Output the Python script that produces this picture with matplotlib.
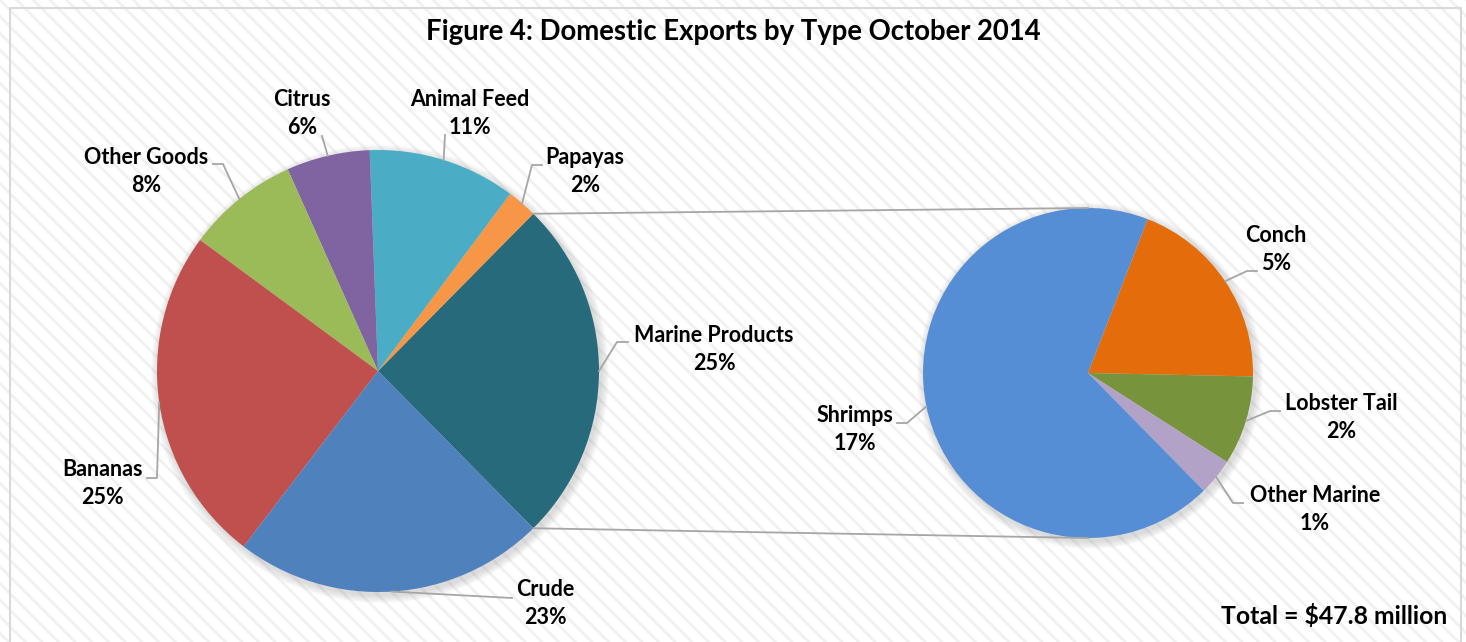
import numpy as np
import matplotlib.pyplot as plt
from matplotlib.patches import Rectangle, Circle

plt.rcParams['font.family'] = ['Lato', 'DejaVu Sans']
plt.rcParams['hatch.linewidth'] = 2.0

# main pie (percent of total domestic exports)
main_labels = ['Marine Products', 'Papayas', 'Animal Feed', 'Citrus',
               'Other Goods', 'Bananas', 'Crude']
main_vals = [25.2, 2.2, 10.8, 6.1, 8.2, 24.7, 22.8]
main_colors = ['#276A7C', '#F79646', '#4BACC6', '#8064A2',
               '#9BBB59', '#C0504D', '#4F81BD']

# breakdown of marine products (percent of total)
sub_labels = ['Conch', 'Lobster Tail', 'Other Marine', 'Shrimps']
sub_vals = [4.9, 2.2, 0.9, 17.2]
sub_colors = ['#E46C0A', '#77933C', '#B3A2C7', '#558ED5']

title = 'Figure 4: Domestic Exports by Type October 2014'
total_text = 'Total = $47.8 million'

W, H = 1466, 642
fig = plt.figure(figsize=(W / 100, H / 100), dpi=100)
fig.patch.set_facecolor('white')
ax = fig.add_axes([0, 0, 1, 1])

# striped background + frame
ax.add_patch(Rectangle((0, 0), W, H, facecolor='white', edgecolor='#F1F1F1',
                       hatch='\\\\', linewidth=0, zorder=0))
ax.plot([10, 10, 1461, 1461], [0, H - 8, H - 8, 0], color='#D9D9D9', lw=1.5, zorder=1)

c1, r1 = (378, H - 371), 221
c2, r2 = (1088, H - 373), 165

# soft shadows
for c, r in [(c1, r1), (c2, r2)]:
    for k in range(1, 9):
        ax.add_patch(Circle((c[0] + 2, c[1] - 3), r + k, color='#808080',
                            alpha=0.035, lw=0, zorder=1))

marine_share = main_vals[0] / sum(main_vals)
start1 = -marine_share * 360 / 2
w1, _ = ax.pie(main_vals, colors=main_colors, startangle=start1, counterclock=True,
               center=c1, radius=r1, wedgeprops=dict(linewidth=0, zorder=2))

sub_start = 68.8
w2, _ = ax.pie(sub_vals, colors=sub_colors, startangle=sub_start, counterclock=False,
               center=c2, radius=r2, wedgeprops=dict(linewidth=0, zorder=2))

# connector lines between the two pies
a = np.deg2rad(start1)
lc = '#A6A6A6'
ax.plot([c1[0] + r1 * np.cos(a), c2[0]], [c1[1] - r1 * np.sin(a), c2[1] + r2],
        color=lc, lw=1.3, zorder=3)
ax.plot([c1[0] + r1 * np.cos(a), c2[0]], [c1[1] + r1 * np.sin(a), c2[1] - r2],
        color=lc, lw=1.3, zorder=3)

fs = 15.5
def label(w, c, r, name, val, pos, elbow):
    mid = np.deg2rad((w.theta1 + w.theta2) / 2)
    p0 = (c[0] + r * np.cos(mid), c[1] + r * np.sin(mid))
    xs = [p0[0]] + [e[0] for e in elbow]
    ys = [p0[1]] + [H - e[1] for e in elbow]
    ax.plot(xs, ys, color=lc, lw=1.3, zorder=3)
    ax.text(pos[0], H - pos[1] + 14, name, ha='center', va='center',
            fontsize=fs, fontweight='bold', zorder=4)
    ax.text(pos[0], H - pos[1] - 14, f'{round(val):.0f}%', ha='center', va='center',
            fontsize=fs, fontweight='bold', zorder=4)

main_pos = {
    'Marine Products': ((714, 349), [(617, 342), (628, 342)]),
    'Papayas': ((585, 172), [(532, 165), (542, 165)]),
    'Animal Feed': ((470, 114), [(445, 135)]),
    'Citrus': ((302, 114), [(322, 136)]),
    'Other Goods': ((146, 172), [(223, 164), (213, 164)]),
    'Bananas': ((102, 484), [(157, 478), (147, 478)]),
    'Crude': ((545, 604), [(512, 598)]),
}
sub_pos = {
    'Conch': ((1276, 249), [(1247, 271), (1257, 271)]),
    'Lobster Tail': ((1341, 418), [(1270, 411), (1280, 411)]),
    'Other Marine': ((1315, 509), [(1233, 503), (1243, 503)]),
    'Shrimps': ((855, 429), [(907, 423), (897, 423)]),
}
for w, n, v in zip(w1, main_labels, main_vals):
    label(w, c1, r1, n, v, *main_pos[n])
for w, n, v in zip(w2, sub_labels, sub_vals):
    label(w, c2, r2, n, v, *sub_pos[n])

ax.text(733, H - 32, title, ha='center', va='center', fontsize=19.8, fontweight='bold')
ax.text(1447, H - 616, total_text, ha='right', va='center', fontsize=17.8, fontweight='bold')

ax.set_xlim(0, W)
ax.set_ylim(0, H)
ax.set_aspect('equal')
ax.axis('off')
fig.savefig('out.png', dpi=100)
